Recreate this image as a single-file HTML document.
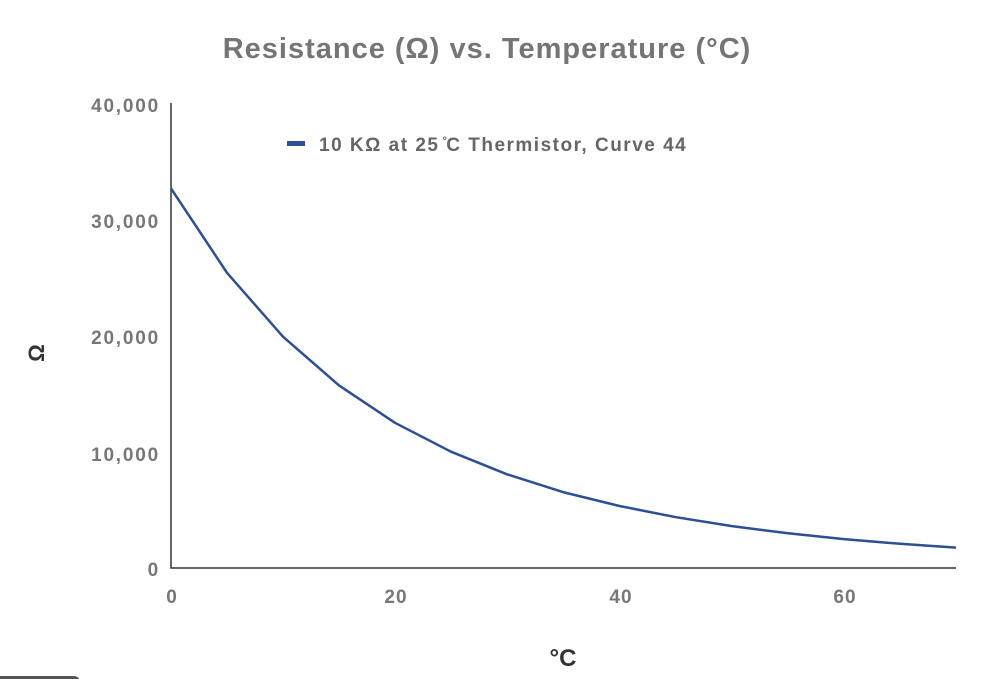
<!DOCTYPE html>
<html><head><meta charset="utf-8"><style>
html,body{margin:0;padding:0;background:#fff;}
svg{display:block;font-family:"Liberation Sans",sans-serif;font-weight:bold;}
</style></head><body>
<svg width="985" height="679" viewBox="0 0 985 679" xmlns="http://www.w3.org/2000/svg">
<text x="487" y="58" text-anchor="middle" font-size="29" letter-spacing="1" fill="#757575">Resistance (Ω) vs. Temperature (°C)</text>
<g font-size="19" letter-spacing="1.8" fill="#777" text-anchor="end">
<text x="160" y="112">40,000</text>
<text x="160" y="228">30,000</text>
<text x="160" y="344">20,000</text>
<text x="160" y="461">10,000</text>
<text x="160" y="576">0</text>
</g>
<g font-size="19" letter-spacing="1" fill="#777" text-anchor="middle">
<text x="172" y="603">0</text>
<text x="396" y="603">20</text>
<text x="621" y="603">40</text>
<text x="845" y="603">60</text>
</g>
<text x="563" y="666" text-anchor="middle" font-size="24" fill="#333">°C</text>
<text x="44" y="353" text-anchor="middle" font-size="22" fill="#333" transform="rotate(-90 44 353)">Ω</text>
<path d="M171 103 V568 H956" fill="none" stroke="#333" stroke-width="1.5"/>
<rect x="287" y="141" width="18" height="5" fill="#2c4f95"/>
<text x="319" y="151" font-size="19" letter-spacing="1.5" fill="#666">10 KΩ at 25 ̊C Thermistor, Curve 44</text>
<polyline fill="none" stroke="#2c4f95" stroke-width="2.5" stroke-linejoin="round" points="171,188.4 227,272.8 283,336.7 339,385.4 395,422.8 451,451.7 507,474.3 563,492.1 620,506.1 676,517.2 732,526.1 788,533.3 844,539.1 900,543.8 956,547.6"/>
<rect x="-10" y="676" width="90" height="12" rx="6" fill="#555"/>
</svg>
</body></html>
